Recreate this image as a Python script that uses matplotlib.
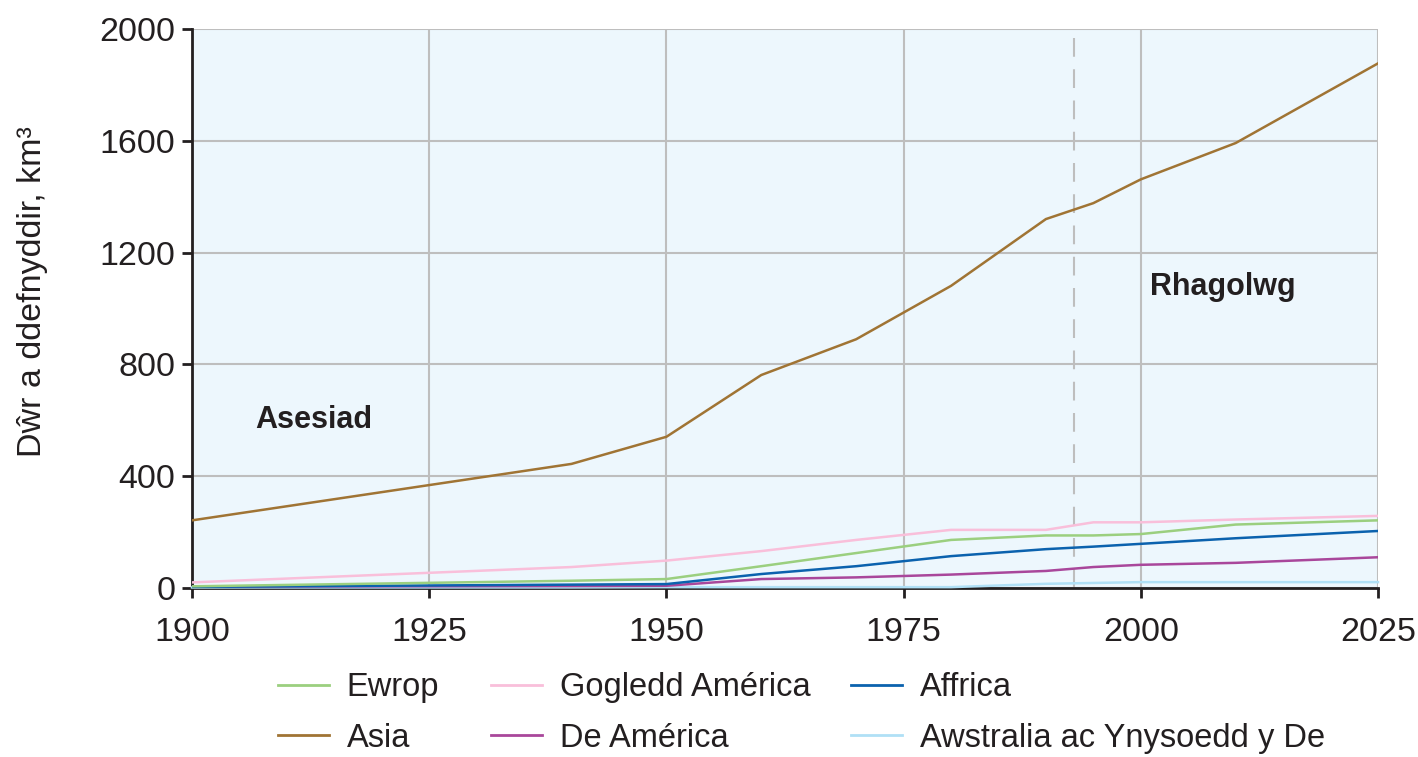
import numpy as np
import matplotlib
matplotlib.use('Agg')
import matplotlib.pyplot as plt
from matplotlib.lines import Line2D

plt.rcParams['font.family'] = ['Liberation Sans', 'DejaVu Sans']

# blynyddoedd a gwerthoedd (km3)
years = [1900, 1940, 1950, 1960, 1970, 1980, 1990, 1995, 2000, 2010, 2025]
ewrop = [6, 26, 32, 78, 125, 172, 188, 188, 193, 227, 242]
gogledd_america = [20, 75, 98, 132, 172, 208, 208, 235, 235, 245, 258]
affrica = [4, 12, 14, 50, 78, 114, 139, 148, 158, 178, 204]
asia = [242, 444, 541, 762, 890, 1081, 1320, 1377, 1462, 1592, 1877]
de_america = [5, 7, 8, 32, 38, 48, 61, 75, 83, 90, 110]
awstralia = [2, 2, 3, 3, 3, 3, 15, 18, 21, 21, 21]

x_ticks = [1900, 1925, 1950, 1975, 2000, 2025]
y_ticks = [0, 400, 800, 1200, 1600, 2000]
split_year = 1993

c_ewrop = '#9BCF7F'
c_gogledd = '#F9BFDA'
c_affrica = '#0B62AE'
c_asia = '#A07434'
c_de = '#A9479B'
c_awstralia = '#B0E0F6'

fig = plt.figure(figsize=(14.18, 7.57), dpi=100)
ax = fig.add_axes([192 / 1418, 1 - 588 / 757, (1378 - 192) / 1418, (588 - 29) / 757])
ax.set_facecolor('#EDF7FD')

ax.set_xlim(1900, 2025)
ax.set_ylim(0, 2000)
ax.set_xticks(x_ticks)
ax.set_yticks(y_ticks)
ax.grid(True, color='#BEBEBE', linewidth=1.5)
ax.set_axisbelow(True)

ax.axvline(split_year, color='#BEBEBE', linewidth=1.5, dashes=(9, 6))

lw = 1.8
ax.plot(years, awstralia, color=c_awstralia, lw=lw, clip_on=False, zorder=3)
ax.plot(years, de_america, color=c_de, lw=lw, zorder=3)
ax.plot(years, affrica, color=c_affrica, lw=lw, zorder=3)
ax.plot(years, ewrop, color=c_ewrop, lw=lw, zorder=3)
ax.plot(years, gogledd_america, color=c_gogledd, lw=lw, zorder=3)
ax.plot(years, asia, color=c_asia, lw=lw, zorder=3)

for s in ['top', 'right']:
    ax.spines[s].set_visible(False)
for s in ['left', 'bottom']:
    ax.spines[s].set_color('#231F20')
    ax.spines[s].set_linewidth(2)
    ax.spines[s].set_zorder(2.5)

ax.tick_params(axis='both', direction='out', length=7, width=2, color='#231F20',
               labelsize=24.5, labelcolor='#231F20')
ax.tick_params(axis='x', pad=14)
ax.tick_params(axis='y', pad=5)

ax.set_ylabel('Dŵr a ddefnyddir, km³', fontsize=24.5, color='#231F20')
ax.yaxis.set_label_coords(-0.121, 0.53)

ax.text(1906.7, 600, 'Asesiad', fontsize=22, fontweight='bold', color='#231F20',
        va='center', ha='left')
ax.text(2001.0, 1078, 'Rhagolwg', fontsize=22, fontweight='bold', color='#231F20',
        va='center', ha='left')

# chwedl mewn tair colofn
cols = [
    ([('Ewrop', c_ewrop), ('Asia', c_asia)], 278),
    ([('Gogledd América', c_gogledd), ('De América', c_de)], 491),
    ([('Affrica', c_affrica), ('Awstralia ac Ynysoedd y De', c_awstralia)], 851),
]
for entries, xpx in cols:
    handles = [Line2D([], [], color=c, lw=2) for _, c in entries]
    labels = [t for t, _ in entries]
    fig.legend(handles, labels, loc='upper left', bbox_to_anchor=(xpx / 1418, 1 - 672 / 757),
               frameon=False, fontsize=23.5, handlelength=1.55, handletextpad=0.55,
               labelspacing=0.6, borderaxespad=0, borderpad=0, labelcolor='#231F20')

fig.savefig('out.png', dpi=100)
